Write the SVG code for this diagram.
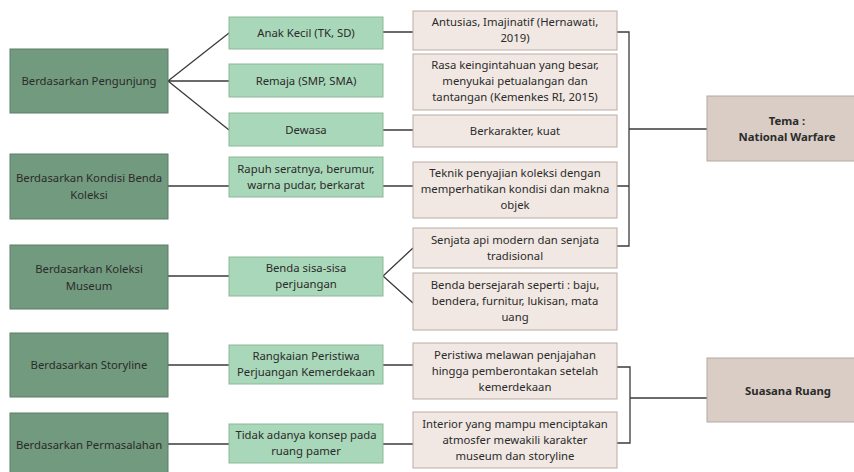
<svg xmlns="http://www.w3.org/2000/svg" width="854" height="472" viewBox="0 0 854 472">
<style>
text{font-family:"Noto Sans","Liberation Sans",sans-serif;font-size:11.3px;fill:#2b2b2b;text-anchor:middle}
.b{font-weight:bold}
.dk{fill:#729a7e;stroke:#5f7d68;stroke-width:1}
.lg{fill:#a9d7b9;stroke:#8db79a;stroke-width:1}
.bg{fill:#f1e8e3;stroke:#b9aca5;stroke-width:1}
.tm{fill:#d9cdc5;stroke:#b5a79e;stroke-width:1}
#connectors path{fill:none;stroke:#3b3b3b;stroke-width:1.3}
</style>
<rect width="854" height="472" fill="#ffffff"/>
<g id="connectors">
<path d="M168,81 L229,33 M168,81 L229,81 M168,81 L229,130"/>
<path d="M168,186 H229 M383,186 H413"/>
<path d="M383,32 H413 M383,130 H413"/>
<path d="M168,276 H229 M383,276 L413,248 M383,276 L413,303"/>
<path d="M168,365 H229 M383,365 H413"/>
<path d="M168,444 H229 M383,444 H413"/>
<path d="M617,32 H629 V246 H617 M617,186 H629 M629,129 H707"/>
<path d="M617,367 H630 V443 H617 M630,398 H707"/>
</g>
<g id="n-pengunjung"><rect class="dk" x="10" y="49" width="158" height="64"/><text x="89" y="85">Berdasarkan Pengunjung</text></g>
<g id="n-kondisi"><rect class="dk" x="10" y="154" width="158" height="65"/><text x="89" y="182">Berdasarkan Kondisi Benda</text><text x="89" y="199">Koleksi</text></g>
<g id="n-koleksi"><rect class="dk" x="10" y="245" width="158" height="64"/><text x="89" y="273">Berdasarkan Koleksi</text><text x="89" y="290">Museum</text></g>
<g id="n-storyline"><rect class="dk" x="10" y="333" width="158" height="64"/><text x="89" y="369">Berdasarkan Storyline</text></g>
<g id="n-permasalahan"><rect class="dk" x="10" y="413" width="158" height="64"/><text x="89" y="449">Berdasarkan Permasalahan</text></g>

<g id="n-anak"><rect class="lg" x="229" y="17" width="154" height="32"/><text x="306" y="37">Anak Kecil (TK, SD)</text></g>
<g id="n-remaja"><rect class="lg" x="229" y="64" width="154" height="33"/><text x="306" y="85">Remaja (SMP, SMA)</text></g>
<g id="n-dewasa"><rect class="lg" x="229" y="113" width="154" height="33"/><text x="306" y="134">Dewasa</text></g>
<g id="n-rapuh"><rect class="lg" x="229" y="157" width="154" height="40"/><text x="306" y="173">Rapuh seratnya, berumur,</text><text x="306" y="189">warna pudar, berkarat</text></g>
<g id="n-benda"><rect class="lg" x="229" y="257" width="154" height="39"/><text x="306" y="272">Benda sisa-sisa</text><text x="306" y="288">perjuangan</text></g>
<g id="n-rangkaian"><rect class="lg" x="229" y="345" width="154" height="39"/><text x="306" y="360">Rangkaian Peristiwa</text><text x="306" y="376">Perjuangan Kemerdekaan</text></g>
<g id="n-tidak"><rect class="lg" x="229" y="424" width="154" height="39"/><text x="306" y="439">Tidak adanya konsep pada</text><text x="306" y="455">ruang pamer</text></g>

<g id="n-antusias"><rect class="bg" x="413" y="11" width="204" height="39"/><text x="515" y="26">Antusias, Imajinatif (Hernawati,</text><text x="515" y="42">2019)</text></g>
<g id="n-rasa"><rect class="bg" x="413" y="54" width="204" height="56"/><text x="515" y="69">Rasa keingintahuan yang besar,</text><text x="515" y="85">menyukai petualangan dan</text><text x="515" y="101">tantangan (Kemenkes RI, 2015)</text></g>
<g id="n-berkarakter"><rect class="bg" x="413" y="115" width="204" height="32"/><text x="515" y="135">Berkarakter, kuat</text></g>
<g id="n-teknik"><rect class="bg" x="413" y="162" width="204" height="56"/><text x="515" y="177">Teknik penyajian koleksi dengan</text><text x="515" y="193">memperhatikan kondisi dan makna</text><text x="515" y="209">objek</text></g>
<g id="n-senjata"><rect class="bg" x="413" y="228" width="204" height="40"/><text x="515" y="244">Senjata api modern dan senjata</text><text x="515" y="260">tradisional</text></g>
<g id="n-bersejarah"><rect class="bg" x="413" y="273" width="204" height="57"/><text x="515" y="289">Benda bersejarah seperti : baju,</text><text x="515" y="305">bendera, furnitur, lukisan, mata</text><text x="515" y="321">uang</text></g>
<g id="n-peristiwa"><rect class="bg" x="413" y="343" width="204" height="56"/><text x="515" y="359">Peristiwa melawan penjajahan</text><text x="515" y="375">hingga pemberontakan setelah</text><text x="515" y="391">kemerdekaan</text></g>
<g id="n-interior"><rect class="bg" x="413" y="412" width="204" height="56"/><text x="515" y="428">Interior yang mampu menciptakan</text><text x="515" y="444">atmosfer mewakili karakter</text><text x="515" y="460">museum dan storyline</text></g>

<g id="n-tema"><rect class="tm" x="707" y="96" width="160" height="65"/><text class="b" x="787" y="125">Tema :</text><text class="b" x="787" y="141">National Warfare</text></g>
<g id="n-suasana"><rect class="tm" x="707" y="358" width="160" height="64"/><text class="b" x="788" y="395">Suasana Ruang</text></g>
</svg>
